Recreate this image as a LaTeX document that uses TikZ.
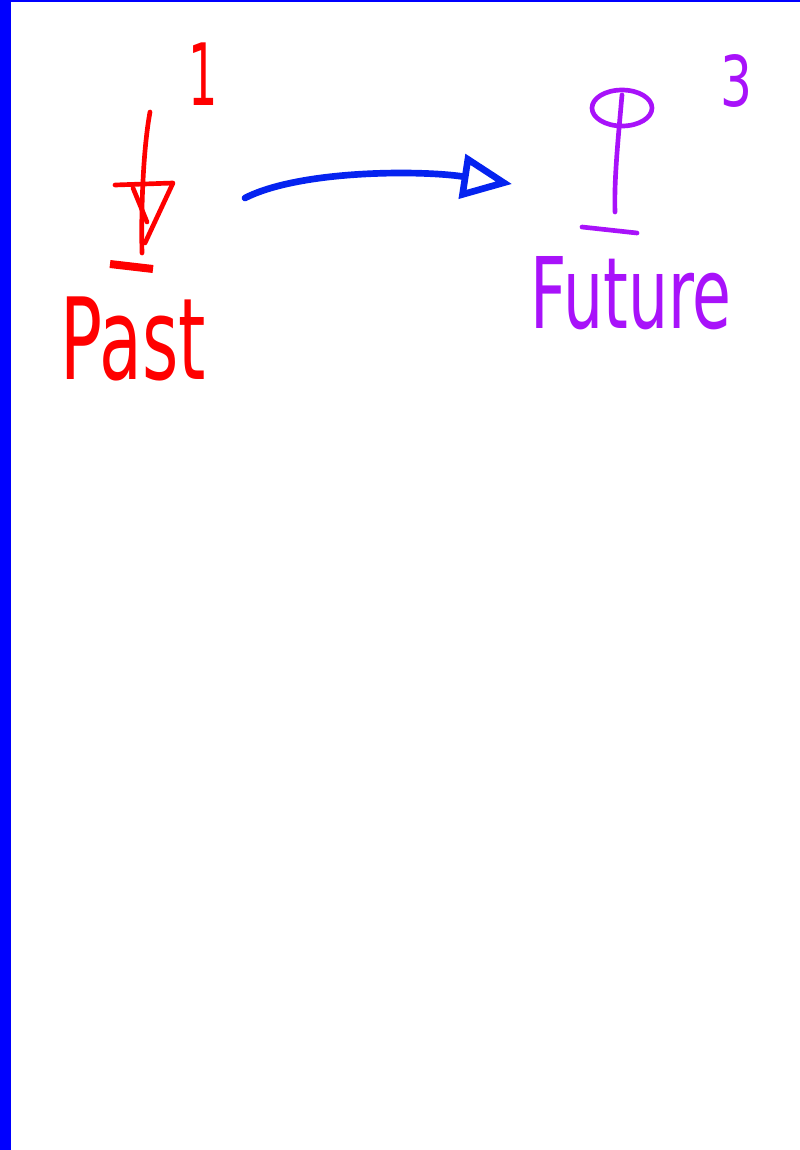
\documentclass[tikz,border=0pt]{standalone}
\usepackage[svgnames]{xcolor}
\usepackage{graphicx}
\usepackage{fontspec}
\setsansfont{DejaVu Sans}
\usepackage{tikz}
\usetikzlibrary{
  arrows.meta}

\definecolor{penpurple}{RGB}{168,18,250}
\definecolor{penblue}{RGB}{5,35,240}
\tikzset{
  pen/.style={line width=3.5pt, line cap=round, line join=round},
  scribble/.style={inner sep=0pt, anchor=south west, font=\sffamily}}

\begin{document}
\begin{tikzpicture}[x=0.75pt,y=-0.75pt]
\useasboundingbox (0,0) rectangle (800,1150);
\fill[White] (0,0) rectangle (800,1150);
\fill[Blue] (0,0) rectangle (11,1150);
\fill[Blue] (0,0) rectangle (800,2);
\begin{scope}[pen, Red]
\draw (150,112) .. controls (143,150) and (141,210) .. (142,253);
\draw (115,185) -- (173,183) -- (145,243);
\draw (133,188) -- (147,222);
\draw[line width=6pt, line cap=butt] (110,264) -- (153,269);
\node[scribble, text=Red] (one) at (186,108) {\resizebox{22pt}{47pt}{1}};
\node[scribble, text=Red] (past) at (58,383) {\resizebox{109pt}{62pt}{Past}};
\end{scope}
\begin{scope}[pen, penpurple]
\draw (622,108) ellipse [x radius=30, y radius=18];
\draw (622,95) .. controls (618,140) and (614,180) .. (615,212);
\draw (582,227) -- (637,233);
\node[scribble, text=penpurple] (three) at (718,110) {\resizebox{24pt}{39pt}{3}};
\node[scribble, text=penpurple] (future) at (528,332) {\resizebox{151pt}{54pt}{Future}};
\end{scope}
\coordinate (tail) at (245,198);
\coordinate (head) at (512,184);
\draw[pen, line width=5pt, penblue, -{Triangle[open, length=38pt, width=33pt]}]
  (tail) .. controls (300,170) and (420,170) .. (head);
\end{tikzpicture}
\end{document}
